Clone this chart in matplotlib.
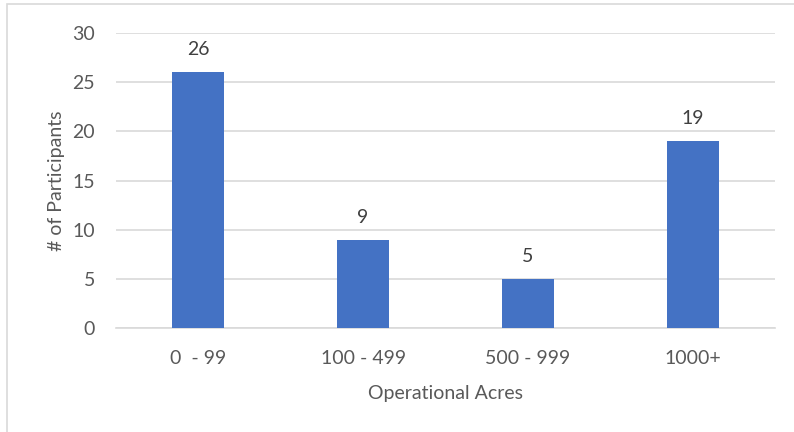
import matplotlib
matplotlib.use("Agg")
import matplotlib.pyplot as plt
from matplotlib.patches import Rectangle

categories = ["0  - 99", "100 - 499", "500 - 999", "1000+"]
participants = [26, 9, 5, 19]
y_ticks = [0, 5, 10, 15, 20, 25, 30]

plt.rcParams["font.family"] = ["Lato", "DejaVu Sans"]
text_color = "#595959"

W, H = 794, 432
fig = plt.figure(figsize=(W / 100, H / 100), dpi=100)
fig.patch.set_facecolor("white")

# chart frame (left and top edges visible)
fig.patches.append(Rectangle((7 / W, -0.1), 1.2, (1 - 4 / H) + 0.1,
                             transform=fig.transFigure, fill=False,
                             edgecolor="#D9D9D9", linewidth=1.2))

ax = fig.add_axes([116 / W, 1 - 328 / H, (775 - 116) / W, (328 - 33) / H])
x = range(len(categories))
bars = ax.bar(x, participants, width=0.316, color="#4472C4", zorder=3)
ax.set_xlim(-0.5, len(categories) - 0.5)
ax.set_ylim(0, 30)
ax.set_yticks(y_ticks)
ax.set_xticks(list(x))
ax.set_xticklabels(categories)
ax.grid(axis="y", color="#D9D9D9", linewidth=1.2, zorder=0)
for s in ["top", "right", "left"]:
    ax.spines[s].set_visible(False)
ax.spines["bottom"].set_color("#D9D9D9")
ax.spines["bottom"].set_linewidth(1.2)
ax.tick_params(axis="both", length=0, labelsize=14, colors=text_color)
ax.tick_params(axis="y", pad=15)
ax.tick_params(axis="x", pad=16)

for b, v in zip(bars, participants):
    ax.annotate(str(v), (b.get_x() + b.get_width() / 2, v),
                xytext=(0, 10), textcoords="offset points",
                ha="center", va="bottom", fontsize=14, color="#404040")

ax.set_xlabel("Operational Acres", fontsize=14, color=text_color, labelpad=13)
ax.set_ylabel("# of Participants", fontsize=14, color=text_color, labelpad=5)

fig.savefig("out.png", dpi=100, facecolor="white")
